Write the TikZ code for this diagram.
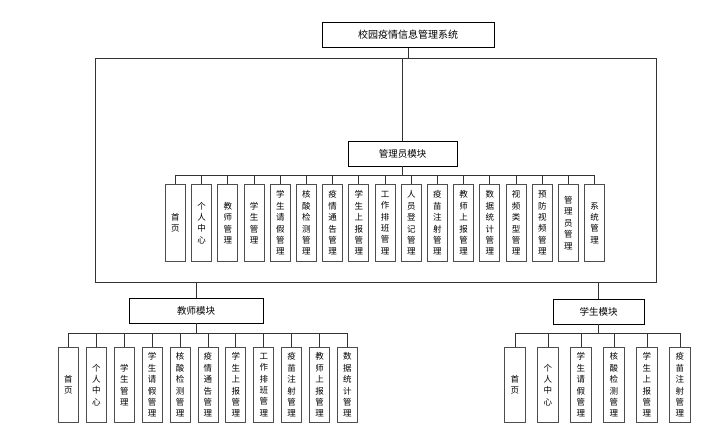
\documentclass[tikz,border=0pt]{standalone}
\usepackage{fontspec}
\setmainfont{Noto Sans CJK SC}
\usepackage{tikz}
\usetikzlibrary{positioning,calc}
\definecolor{edge}{HTML}{333333}
\definecolor{boxline}{HTML}{4D4D4D}

\begin{document}
\begin{tikzpicture}[x=1pt,y=-1pt,
  conn/.style={draw=edge,line width=0.8pt},
  head/.style={draw=black,line width=0.8pt,fill=white,minimum height=25,inner sep=0pt,font=\fontsize{9.5}{11}\selectfont},
  leaf/.style={draw=boxline,line width=0.9pt,fill=white,anchor=north west,minimum width=20,inner sep=0pt,align=center,font=\fontsize{8.5}{11.4}\selectfont}]
  \useasboundingbox (0,0) rectangle (701,436);

  % top level
  \node[head,minimum width=172,font=\fontsize{10}{12}\selectfont] (root) at (408,35) {校园疫情信息管理系统};
  \coordinate (ftl) at (95,58);
  \coordinate (fbr) at (656,282);
  \draw[conn] (ftl) rectangle (fbr);
  \draw[conn] (root.south) -- (root.south |- ftl);

  % module boxes
  \node[head,minimum width=109] (adm) at (402.5,153.5) {管理员模块};
  \node[head,minimum width=134] (tea) at (196,310.5) {教师模块};
  \node[head,minimum width=91] (stu) at (598.5,311.5) {学生模块};
  \draw[conn] (adm.north) -- (adm.north |- ftl);
  \draw[conn] (tea.north) -- (tea.north |- fbr);
  \draw[conn] (stu.north) -- (stu.north |- fbr);

  % admin leaves
  \foreach \lbl [count=\i] in {{首\\页},{个\\人\\中\\心},{教\\师\\管\\理},{学\\生\\管\\理},
      {学\\生\\请\\假\\管\\理},{核\\酸\\检\\测\\管\\理},{疫\\情\\通\\告\\管\\理},{学\\生\\上\\报\\管\\理},
      {工\\作\\排\\班\\管\\理},{人\\员\\登\\记\\管\\理},{疫\\苗\\注\\射\\管\\理},{教\\师\\上\\报\\管\\理},
      {数\\据\\统\\计\\管\\理},{视\\频\\类\\型\\管\\理},{预\\防\\视\\频\\管\\理},{管\\理\\员\\管\\理},{系\\统\\管\\理}}{
    \node[leaf,minimum height=77] (a\i) at ({165+26.2*(\i-1)},184) {\lbl};
    \draw[conn] (adm.south) -- ++(0,9) -| (a\i.north);
  }

  % teacher leaves
  \foreach \lbl [count=\i] in {{首\\页},{个\\人\\中\\心},{学\\生\\管\\理},{学\\生\\请\\假\\管\\理},
      {核\\酸\\检\\测\\管\\理},{疫\\情\\通\\告\\管\\理},{学\\生\\上\\报\\管\\理},{工\\作\\排\\班\\管\\理},
      {疫\\苗\\注\\射\\管\\理},{教\\师\\上\\报\\管\\理},{数\\据\\统\\计\\管\\理}}{
    \node[leaf,minimum height=75] (t\i) at ({58+27.9*(\i-1)},347) {\lbl};
    \draw[conn] (tea.south) -- ++(0,10) -| (t\i.north);
  }

  % student leaves
  \foreach \lbl [count=\i] in {{首\\页},{个\\人\\中\\心},{学\\生\\请\\假\\管\\理},{核\\酸\\检\\测\\管\\理},
      {学\\生\\上\\报\\管\\理},{疫\\苗\\注\\射\\管\\理}}{
    \node[leaf,minimum width=21,minimum height=75] (s\i) at ({504+33*(\i-1)},347) {\lbl};
    \draw[conn] (stu.south) -- ++(0,9) -| (s\i.north);
  }
\end{tikzpicture}
\end{document}
